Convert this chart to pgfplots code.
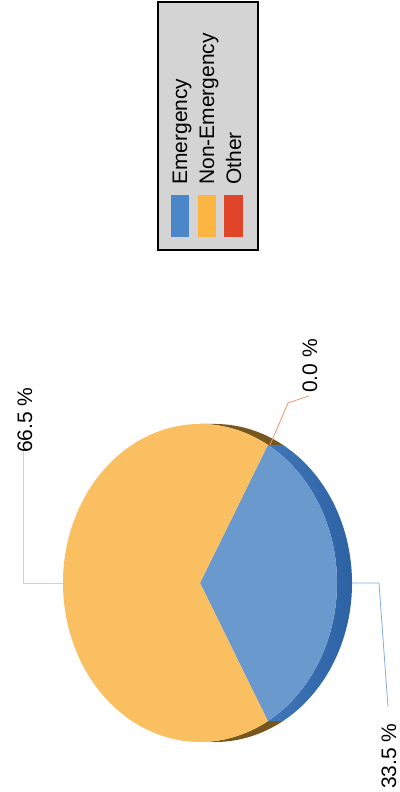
\documentclass[border=0pt]{standalone}
\usepackage{pgfplots}
\pgfplotsset{compat=1.18}
\usepackage{fontspec}
\setmainfont{Liberation Sans}
\definecolor{topBlue}{HTML}{6A99CE}
\definecolor{topOrange}{HTML}{F9BF60}
\definecolor{rimBlueL}{HTML}{5089CA}
\definecolor{rimBlueD}{HTML}{285C9E}
\definecolor{rimOrange}{HTML}{76581F}
\definecolor{legBlue}{HTML}{4A86C8}
\definecolor{legOrange}{HTML}{FBB540}
\definecolor{legRed}{HTML}{E0452A}
\definecolor{legGray}{HTML}{D4D4D4}
\definecolor{lnOrange}{HTML}{F8C88C}
\definecolor{lnBlue}{HTML}{7FAEE6}
\definecolor{lnRed}{HTML}{F0946C}
% data (percent)
\def\pE{33.5}
\def\pN{66.5}
\def\pO{0.0}
\pgfmathsetmacro\hb{\pE*3.6/2}
\pgfmathsetmacro\oe{\hb+\pN*3.6}
\newcommand\fs{\fontsize{21bp}{25bp}\selectfont}
\begin{document}
\begin{tikzpicture}
\begin{axis}[at={(0,0)}, anchor=south west, scale only axis,
  width=400bp, height=792bp, xmin=0, xmax=400, ymin=0, ymax=792,
  hide axis, clip=false]
% fix the picture's extent
\path (axis cs:0,0) rectangle (axis cs:400,792);
% 3D rim
\shade[left color=rimBlueL, right color=rimBlueD]
  (axis cs:200,209) ++(-\hb:137bp and 159bp)
  arc[start angle=-\hb, end angle=\hb, x radius=137bp, y radius=159bp]
  -- ++(15bp,0)
  arc[start angle=\hb, end angle=-\hb, x radius=137bp, y radius=159bp] -- cycle;
\fill[rimOrange]
  (axis cs:200,209) ++(\hb:137bp and 159bp)
  arc[start angle=\hb, end angle=90, x radius=137bp, y radius=159bp]
  -- ++(15bp,0)
  arc[start angle=90, end angle=\hb, x radius=137bp, y radius=159bp] -- cycle;
\fill[rimOrange]
  (axis cs:200,209) ++(-90:137bp and 159bp)
  arc[start angle=-90, end angle=-\hb, x radius=137bp, y radius=159bp]
  -- ++(15bp,0)
  arc[start angle=-\hb, end angle=-90, x radius=137bp, y radius=159bp] -- cycle;
% top faces
\fill[topBlue] (axis cs:200,209) -- ++(-\hb:137bp and 159bp)
  arc[start angle=-\hb, end angle=\hb, x radius=137bp, y radius=159bp] -- cycle;
\fill[topOrange] (axis cs:200,209) -- ++(\hb:137bp and 159bp)
  arc[start angle=\hb, end angle=\oe, x radius=137bp, y radius=159bp] -- cycle;
% leader lines
\draw[lnOrange, line width=0.8bp] (axis cs:63,209) -- (axis cs:23,209) -- (axis cs:23,341);
\draw[lnBlue, line width=0.8bp] (axis cs:352,209) -- (axis cs:379,209) -- (axis cs:388,85);
\draw[lnRed, line width=0.8bp] (axis cs:270,347) -- (axis cs:288,389) -- (axis cs:309,396);
% labels
\node[rotate=90, anchor=base west, inner sep=0, font=\fs] at (axis cs:32,339) {66.5 \%};
\node[rotate=90, anchor=base west, inner sep=0, font=\fs] at (axis cs:396,3) {33.5 \%};
\node[rotate=90, anchor=base west, inner sep=0, font=\fs] at (axis cs:317,399) {0.0 \%};
% legend
\draw[fill=legGray, line width=1.3bp] (axis cs:158,542) rectangle (axis cs:258,790);
\fill[legBlue] (axis cs:171,555) rectangle (axis cs:189,597);
\fill[legOrange] (axis cs:198,555) rectangle (axis cs:216,597);
\fill[legRed] (axis cs:224,555) rectangle (axis cs:243,597);
\node[rotate=90, anchor=base west, inner sep=0, font=\fs] at (axis cs:187,607) {Emergency};
\node[rotate=90, anchor=base west, inner sep=0, font=\fs] at (axis cs:214,607) {Non-Emergency};
\node[rotate=90, anchor=base west, inner sep=0, font=\fs] at (axis cs:241,607) {Other};
\end{axis}
\end{tikzpicture}
\end{document}
